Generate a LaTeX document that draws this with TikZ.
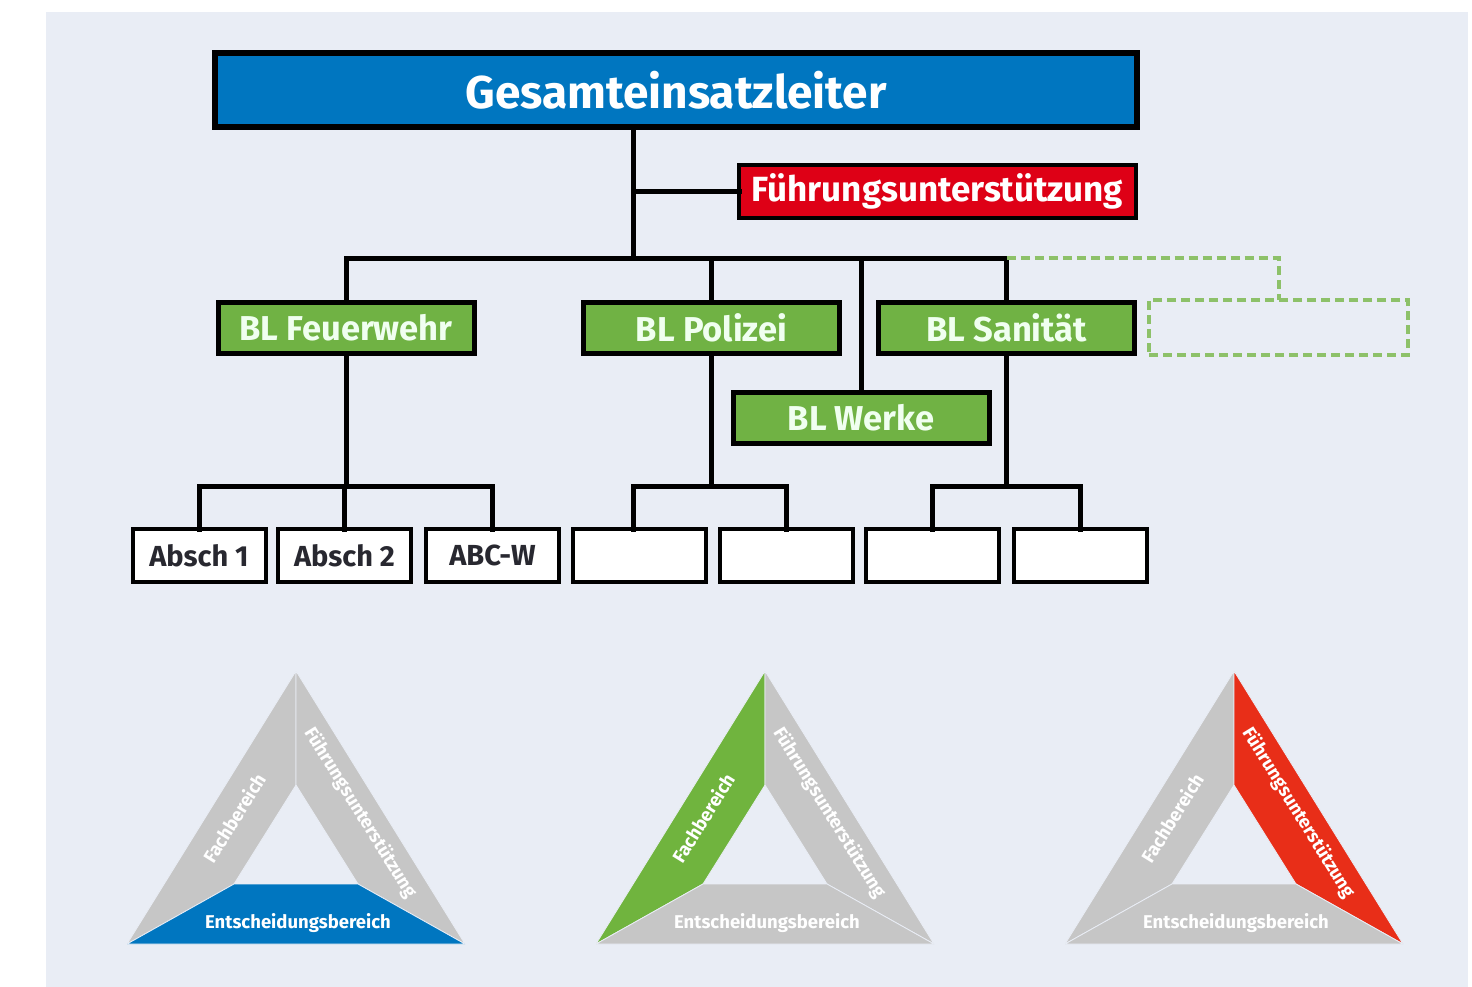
\documentclass[tikz,border=0pt]{standalone}
\usepackage{fontspec}
\setmainfont{Fira Sans}
\definecolor{panel}{RGB}{233,237,245}
\definecolor{gelblue}{RGB}{0,118,192}
\definecolor{fured}{RGB}{222,0,22}
\definecolor{blgreen}{RGB}{112,178,68}
\definecolor{trigray}{RGB}{198,198,198}
\definecolor{trired}{RGB}{232,46,24}
\definecolor{trigreen}{RGB}{112,180,62}
\definecolor{darktext}{RGB}{40,40,48}
\tikzset{
  conn/.style={line width=5pt, draw=black, line cap=rect, line join=miter},
  gelbox/.style={draw=black, line width=6pt, fill=gelblue, text=white, inner sep=0pt, outer sep=0pt, font=\bfseries\fontsize{46}{46}\selectfont},
  fubox/.style={draw=black, line width=4pt, fill=fured, text=white, inner sep=0pt, outer sep=0pt, font=\bfseries\fontsize{35}{35}\selectfont},
  blbox/.style={draw=black, line width=5pt, fill=blgreen, text=white!94!green, inner sep=0pt, outer sep=0pt, minimum width=256pt, minimum height=51pt, font=\bfseries\fontsize{34.5}{34.5}\selectfont},
  dashbox/.style={draw=blgreen!80, line width=4pt, dash pattern=on 9pt off 5pt, inner sep=0pt, outer sep=0pt, minimum width=259pt, minimum height=55pt},
  subbox/.style={draw=black, line width=4pt, fill=white, text=darktext, inner sep=0pt, outer sep=0pt, minimum width=133pt, minimum height=53pt, font=\bfseries\fontsize{29}{29}\selectfont},
  band/.style={draw=panel, line width=0.8pt, line join=miter},
  trilabel/.style={text=white, inner sep=0pt, font=\bfseries\fontsize{18.5}{18.5}\selectfont},
}
\begin{document}
\begin{tikzpicture}[x=1pt,y=-1pt]
\useasboundingbox (0,0) rectangle (1472,987);
\fill[white] (0,0) rectangle (1472,987);
\fill[panel] (46,12) rectangle (1468,987);

% top level
\node[gelbox, minimum width=922pt, minimum height=74pt] (gel) at (676,90) {Gesamteinsatzleiter};
\node[fubox, minimum width=397pt, minimum height=53pt] (fu) at (937.5,191.5) {Führungsunterstützung};

% second level
\node[blbox] (fw) at (346,328) {BL Feuerwehr};
\node[blbox] (pol) at (711.5,328) {BL Polizei};
\node[blbox] (san) at (1006.5,328) {BL Sanität};
\node[blbox] (wer) at (861,418) {BL Werke};
\node[dashbox] (dbox) at (1278.5,327.5) {};

% third level
\node[subbox] (a1) at (199,555.5) {Absch 1};
\node[subbox] (a2) at (344.5,555.5) {Absch 2};
\node[subbox] (abc) at (492.5,555.5) {ABC-W};
\node[subbox] (p1) at (639,555.5) {};
\node[subbox] (p2) at (786.5,555.5) {};
\node[subbox] (s1) at (932.5,555.5) {};
\node[subbox] (s2) at (1080,555.5) {};

\coordinate (trunk) at (633,258);
\coordinate (bus) at (0,486);

% connectors top
\draw[conn] (gel.south -| trunk) -- (trunk);
\draw[conn] (fu.west) -- (fu.west -| trunk);
\draw[conn] (fw.north) |- (san.north |- trunk) -- (san.north);
\draw[conn] (pol.north) -- (pol.north |- trunk);
\draw[conn] (wer.north) -- (wer.north |- trunk);
\draw[draw=blgreen!80, line width=4pt, dash pattern=on 9pt off 5pt] (san.north |- trunk) -| (dbox.north);

% connectors bottom
\draw[conn] (fw.south) -- (fw.south |- bus);
\draw[conn] (a1.north) -- (a1.north |- bus) -- (abc.north |- bus) -- (abc.north);
\draw[conn] (a2.north) -- (a2.north |- bus);
\draw[conn] (pol.south) -- (pol.south |- bus);
\draw[conn] ([xshift=-6pt]p1.north) -- ([xshift=-6pt]p1.north |- bus) -- (p2.north |- bus) -- (p2.north);
\draw[conn] (san.south) -- (san.south |- bus);
\draw[conn] (s1.north) -- (s1.north |- bus) -- (s2.north |- bus) -- (s2.north);

% triangles
\foreach \cx/\which in {296/1, 765/2, 1234/3} {
  \begin{scope}[shift={(\cx,0)}]
    \coordinate (oA) at (0,671);
    \coordinate (oL) at (-169,944);
    \coordinate (oR) at (169,944);
    \coordinate (iA) at (0,785);
    \coordinate (iL) at (-62,884);
    \coordinate (iR) at (62,884);
    \ifnum\which=2 \def\lc{trigreen}\else\def\lc{trigray}\fi
    \ifnum\which=3 \def\rc{trired}\else\def\rc{trigray}\fi
    \ifnum\which=1 \def\bc{gelblue}\else\def\bc{trigray}\fi
    \filldraw[band, fill=\lc] (oA) -- (iA) -- (iL) -- (oL) -- cycle;
    \filldraw[band, fill=\rc] (oA) -- (oR) -- (iR) -- (iA) -- cycle;
    \filldraw[band, fill=\bc] (oL) -- (iL) -- (iR) -- (oR) -- cycle;
    \node[trilabel, rotate=58.2] (fb\which) at (-62,818) {Fachbereich};
    \node[trilabel, rotate=-58.2] (fuu\which) at (64,813) {Führungsunterstützung};
    \node[trilabel] (eb\which) at (2,923) {Entscheidungsbereich};
  \end{scope}
}
\end{tikzpicture}
\end{document}
